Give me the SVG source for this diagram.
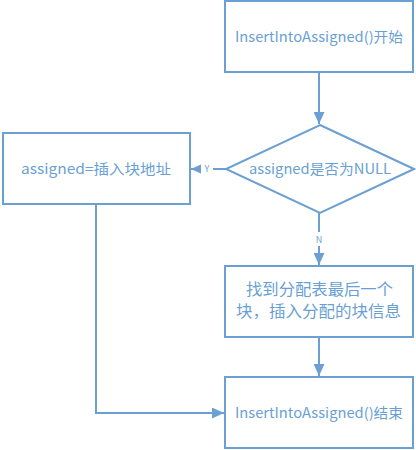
<svg xmlns="http://www.w3.org/2000/svg" width="416" height="450" viewBox="0 0 416 450">
<style>
.box{fill:#fff;stroke:#6c9fd2;stroke-width:2}
.ln{fill:none;stroke:#6c9fd2;stroke-width:2}
.t{font-family:"Noto Sans CJK SC",sans-serif;font-size:14px;fill:#6a9fd3;text-anchor:middle}
.s{font-family:"Noto Sans CJK SC",sans-serif;font-size:9px;fill:#6a9fd3;text-anchor:middle}
</style>
<defs>
<marker id="ah" markerWidth="12" markerHeight="11" refX="12" refY="5.5" orient="auto" markerUnits="userSpaceOnUse">
<path d="M0,0 L12,5.5 L0,11 z" fill="#6c9fd2"/>
</marker>
</defs>
<rect width="416" height="450" fill="#fff"/>
<g id="connectors">
<line class="ln" x1="319" y1="72" x2="319" y2="124" marker-end="url(#ah)"/>
<line class="ln" x1="226" y1="169" x2="191" y2="169" marker-end="url(#ah)"/>
<rect x="201" y="162" width="12" height="14" fill="#fff"/>
<text class="s" x="207" y="172">Y</text>
<line class="ln" x1="319" y1="213" x2="319" y2="265" marker-end="url(#ah)"/>
<rect x="313" y="232" width="12" height="14" fill="#fff"/>
<text class="s" x="319" y="243">N</text>
<line class="ln" x1="319" y1="337" x2="319" y2="376" marker-end="url(#ah)"/>
<polyline class="ln" points="96,204 96,413 224,413" marker-end="url(#ah)"/>
</g>
<g id="start">
<rect class="box" x="225" y="1" width="188" height="71"/>
<text class="t" x="319" y="42" textLength="168" lengthAdjust="spacingAndGlyphs">InsertIntoAssigned()开始</text>
</g>
<g id="decision">
<polygon class="box" points="320,125 414,169 320,213 226,169"/>
<text class="t" x="320" y="174" textLength="142" lengthAdjust="spacingAndGlyphs">assigned是否为NULL</text>
</g>
<g id="assign">
<rect class="box" x="3" y="133" width="187" height="71"/>
<text class="t" x="96" y="174" textLength="150" lengthAdjust="spacingAndGlyphs">assigned=插入块地址</text>
</g>
<g id="process">
<rect class="box" x="225" y="266" width="188" height="71"/>
<text class="t" x="319.5" y="295" style="font-size:16px" textLength="147" lengthAdjust="spacingAndGlyphs">找到分配表最后一个</text>
<text class="t" x="318.5" y="317" style="font-size:16px" textLength="165" lengthAdjust="spacingAndGlyphs">块，插入分配的块信息</text>
</g>
<g id="end">
<rect class="box" x="225" y="377" width="188" height="71"/>
<text class="t" x="319" y="418" textLength="168" lengthAdjust="spacingAndGlyphs">InsertIntoAssigned()结束</text>
</g>
</svg>
